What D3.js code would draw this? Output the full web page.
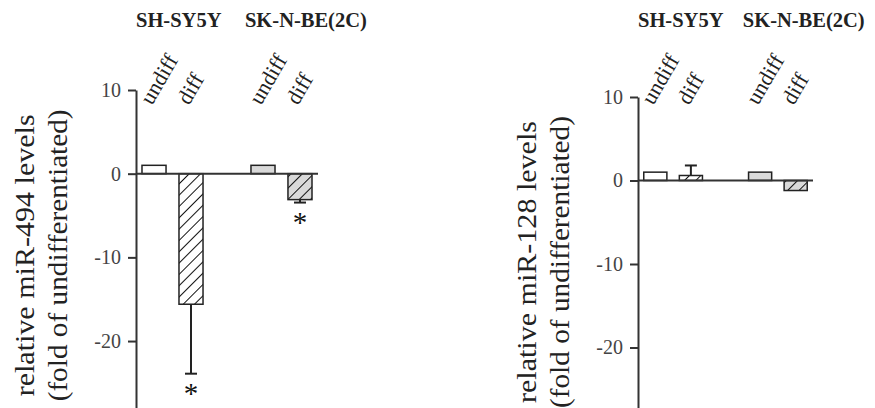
<!DOCTYPE html>
<html>
<head>
<meta charset="utf-8">
<script src="https://cdn.jsdelivr.net/npm/d3@7"></script>
<style>
body { margin: 0; background: #fff; }
text { font-family: "Liberation Serif", "Times New Roman", serif; }
</style>
</head>
<body>
<div id="figure"></div>
<script>
const groups = ["SH-SY5Y", "SK-N-BE(2C)"];
const conditions = ["undiff", "diff"];
const yTicks = [10, 0, -10, -20];

// miR-494 (left panel)
const mir494 = [[1.0, -15.6], [1.0, -3.1]];
const mir494Err = [[0, 8.3], [0, 0.35]];
const mir494Sig = [[false, true], [false, true]];

// miR-128 (right panel)
const mir128 = [[1.0, 0.6], [1.0, -1.2]];
const mir128Err = [[0, 1.2], [0, 0]];
const mir128Sig = [[false, false], [false, false]];

const svg = d3.select("#figure").append("svg").attr("width", 875).attr("height", 408);
const defs = svg.append("defs");

function makeHatch(id, bg) {
  let p = defs.append("pattern")
    .attr("id", id)
    .attr("patternUnits", "userSpaceOnUse")
    .attr("width", 8).attr("height", 8)
    .attr("patternTransform", "rotate(45)");
  p.append("rect").attr("width", 8).attr("height", 8).attr("fill", bg);
  p.append("line")
    .attr("x1", 0).attr("y1", 0).attr("x2", 0).attr("y2", 8)
    .attr("stroke", "#111").attr("stroke-width", 2);
}
makeHatch("hatchWhite", "#ffffff");
makeHatch("hatchGrey", "#d9d9d9");

function drawPanel(x0, yTop, yBottom, width, values, errs, sigs, label1, label2) {
  let g = svg.append("g").attr("transform", "translate(" + x0 + ",0)");

  let y = d3.scaleLinear().domain([-28, 10]).range([yBottom, yTop]);
  let xg = d3.scaleBand().domain(groups).range([0, width]).paddingInner(0.33).paddingOuter(0);
  let xc = d3.scaleBand().domain(conditions).range([0, xg.bandwidth()])
    .paddingInner(0.35).paddingOuter(0.162);

  let bars = [];
  groups.forEach(function(grp, i) {
    conditions.forEach(function(cond, j) {
      bars.push({ grp: grp, cond: cond, v: values[i][j], e: errs[i][j], s: sigs[i][j], i: i, j: j });
    });
  });

  let fill = function(d) {
    if (d.j == 1) return d.i == 0 ? "url(#hatchWhite)" : "url(#hatchGrey)";
    return d.i == 0 ? "#ffffff" : "#d9d9d9";
  };
  let cx = function(d) { return xg(d.grp) + xc(d.cond) + xc.bandwidth() / 2; };

  // error bars (drawn first, bar covers the inner part)
  bars.filter(d => d.e > 0).forEach(function(d) {
    let sign = d.v < 0 ? -1 : 1;
    let yEnd = y(d.v + sign * d.e);
    g.append("line")
      .attr("x1", cx(d)).attr("x2", cx(d))
      .attr("y1", y(d.v)).attr("y2", yEnd)
      .attr("stroke", "#222").attr("stroke-width", 2);
    g.append("line")
      .attr("x1", cx(d) - 6).attr("x2", cx(d) + 6)
      .attr("y1", yEnd).attr("y2", yEnd)
      .attr("stroke", "#222").attr("stroke-width", 2);
  });

  g.selectAll("rect.bar").data(bars).enter().append("rect")
    .attr("class", "bar")
    .attr("x", d => xg(d.grp) + xc(d.cond))
    .attr("y", d => y(Math.max(d.v, 0)))
    .attr("width", xc.bandwidth())
    .attr("height", d => Math.abs(y(d.v) - y(0)))
    .attr("fill", fill)
    .attr("stroke", "#222")
    .attr("stroke-width", 1.5);

  // significance stars
  bars.filter(d => d.s).forEach(function(d) {
    let sign = d.v < 0 ? -1 : 1;
    g.append("text")
      .attr("x", cx(d))
      .attr("y", y(d.v + sign * d.e) + 29)
      .attr("text-anchor", "middle")
      .attr("font-size", 29)
      .attr("fill", "#111")
      .text("*");
  });

  // zero line
  g.append("line")
    .attr("x1", 0).attr("x2", width)
    .attr("y1", y(0)).attr("y2", y(0))
    .attr("stroke", "#333").attr("stroke-width", 2);

  // y axis
  let axe = g.append("g").call(d3.axisLeft(y)
    .tickValues(yTicks)
    .tickSize(8)
    .tickPadding(7)
    .tickSizeOuter(0)
    .tickFormat(d => String(d)));
  axe.attr("font-family", null).attr("font-size", 20);
  axe.select(".domain").attr("stroke", "#333").attr("stroke-width", 2);
  axe.selectAll(".tick line").attr("stroke", "#333").attr("stroke-width", 2);
  axe.selectAll(".tick text").attr("fill", "#444");

  // rotated condition labels
  g.selectAll("text.cond").data(bars).enter().append("text")
    .attr("class", "cond")
    .attr("transform", d => "translate(" + (cx(d) - 2) + ",106) rotate(-60)")
    .attr("font-size", 22)
    .attr("fill", "#222")
    .text(d => d.cond);

  // cell line titles
  g.selectAll("text.titre").data(groups).enter().append("text")
    .attr("class", "titre")
    .attr("x", d => xg(d))
    .attr("y", 27)
    .attr("font-size", 20.5)
    .attr("font-weight", "bold")
    .attr("fill", "#222")
    .text(d => d);

  // y label, two lines
  let yMid = y(-10) - 2;
  g.append("text")
    .attr("transform", "translate(-102," + yMid + ") rotate(-90)")
    .attr("text-anchor", "middle")
    .attr("font-size", 27)
    .attr("textLength", 282)
    .attr("lengthAdjust", "spacingAndGlyphs")
    .attr("fill", "#222")
    .text(label1);
  g.append("text")
    .attr("transform", "translate(-69," + yMid + ") rotate(-90)")
    .attr("text-anchor", "middle")
    .attr("font-size", 27)
    .attr("textLength", 292)
    .attr("lengthAdjust", "spacingAndGlyphs")
    .attr("fill", "#222")
    .text(label2);
}

drawPanel(136, 90, 408, 182, mir494, mir494Err, mir494Sig,
  "relative miR-494 levels", "(fold of undifferentiated)");
drawPanel(638, 97, 97 + 38 * 8.35, 175, mir128, mir128Err, mir128Sig,
  "relative miR-128 levels", "(fold of undifferentiated)");
</script>
</body>
</html>
